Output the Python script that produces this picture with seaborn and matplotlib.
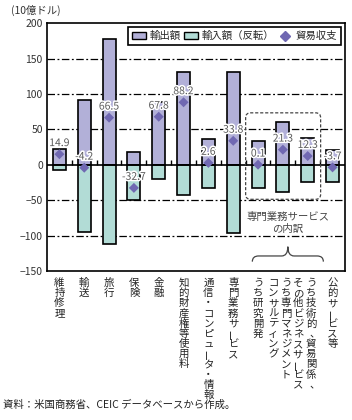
import matplotlib
matplotlib.use("Agg")
import matplotlib.pyplot as plt
import matplotlib.patheffects as pe
from matplotlib.patches import Patch, FancyBboxPatch, PathPatch
from matplotlib.lines import Line2D
from matplotlib.path import Path
from matplotlib.transforms import blended_transform_factory
import pandas as pd
import seaborn as sns

# データ（10億ドル）
categories = ['維持修理', '輸送', '旅行', '保険', '金融', '知的財産権等使用料',
              '通信・コンピュータ・情報', '専門業務サービス', 'うち研究開発',
              'うち専門マネジメントコンサルティング',
              'うち技術的、貿易関係、その他ビジネスサービス', '公的サービス等']
# 縦書きラベル（右の列から）
label_cols = [['維持修理'], ['輸送'], ['旅行'], ['保険'], ['金融'], ['知的財産権等使用料'],
              ['通信・コンピュータ・情報'], ['専門業務サービス'], ['うち研究開発'],
              ['うち専門マネジメント', 'コンサルティング'],
              ['うち技術的、貿易関係、', 'その他ビジネスサービス'], ['公的サービス等']]
exports = [22.9, 91.0, 178.0, 17.5, 88.4, 130.5, 35.9, 130.3, 33.3, 60.2, 37.2, 21.1]
imports = [8.0, 95.2, 111.5, 50.2, 20.6, 42.3, 33.3, 96.5, 33.2, 38.9, 24.9, 24.8]
balance = [14.9, -4.2, 66.5, -32.7, 67.8, 88.2, 2.6, 33.8, 0.1, 21.3, 12.3, -3.7]
yticks = [-150, -100, -50, 0, 50, 100, 150, 200]

df = pd.DataFrame({'cat': categories, 'exp': exports,
                   'imp': [-v for v in imports], 'bal': balance})

c_exp = '#b2b0d8'
c_imp = '#b2dcd6'
c_bal = '#7068b2'

sns.set_style('white')
plt.rcParams['font.family'] = ['Noto Sans CJK JP', 'DejaVu Sans']

fig = plt.figure(figsize=(3.52, 4.2), dpi=100)
ax = fig.add_axes([0.1335, 0.3548, 0.8465, 0.5902])

# 目盛線
for y in yticks:
    if y in (0, 200, -150):
        continue
    ax.axhline(y, color='black', lw=0.9, ls=(0, (6, 2, 1.5, 2)), zorder=0)

sns.barplot(data=df, x='cat', y='exp', color=c_exp, saturation=1, width=0.52,
            edgecolor='black', linewidth=1.2, ax=ax, zorder=2)
sns.barplot(data=df, x='cat', y='imp', color=c_imp, saturation=1, width=0.52,
            edgecolor='black', linewidth=1.2, ax=ax, zorder=2)
ax.axhline(0, color='black', lw=1.2, zorder=2.5)
ax.vlines([i + 0.5 for i in range(len(categories) - 1)], 0, 6, color='black', lw=1, zorder=2.5)
sns.scatterplot(data=df, x='cat', y='bal', marker='D', color=c_bal, s=26,
                edgecolor='none', ax=ax, zorder=4)

for i, b in enumerate(balance):
    ax.annotate(f'{b:.1f}', (i, b), xytext=(0, 8), textcoords='offset points',
                ha='center', va='center', fontsize=7.5, color='#5a5a5a', zorder=5,
                path_effects=[pe.withStroke(linewidth=2.2, foreground='white')])

ax.set_xlim(-0.5, len(categories) - 0.5)
ax.set_ylim(-150, 200)
ax.set_yticks(yticks)
ax.set_xticks([])
ax.set_xlabel('')
ax.set_ylabel('')
ax.tick_params(axis='y', length=0, pad=3, labelsize=7.5, labelcolor='#333333')
for s in ax.spines.values():
    s.set_visible(True)
    s.set_color('black')
    s.set_linewidth(1.2)

# 縦書きのカテゴリラベル
trans = blended_transform_factory(ax.transData, ax.transAxes)
for i, cols in enumerate(label_cols):
    n = len(cols)
    for j, col in enumerate(cols):
        dx = (n - 1) / 2 * 4.7 - j * 9.4
        for k, ch in enumerate(col):
            dy = -(8.6 + k * 7.34)
            rot = 0
            if ch == 'ー':
                rot = 90
            if ch == '、':
                dx2 = dx + 2.8
            else:
                dx2 = dx
            ax.annotate(ch, (i, 0), xycoords=trans, xytext=(dx2, dy),
                        textcoords='offset points', ha='center', va='center',
                        rotation=rot, fontsize=7.5, color='#222222', annotation_clip=False)

# 専門業務サービスの内訳
box = FancyBboxPatch((7.5, -48.8), 3.02, 122.1, boxstyle='round,pad=0,rounding_size=0.2',
                     mutation_aspect=35, fill=False, ls=(0, (2.5, 1.5)), lw=0.9,
                     edgecolor='#444444', zorder=3)
ax.add_patch(box)
ax.text(9.2, -82, '専門業務サービス\nの内訳', ha='center', va='center', fontsize=7.5,
        color='#444444', linespacing=1.25)
x0, x1, xm = 7.77, 10.63, 9.2
ye, yh, yp = -136.8, -128.8, -115.7
verts = [(x0, ye), (x0, yh), (x0 + 0.25, yh), (xm - 0.25, yh), (xm, yh), (xm, yp),
         (xm, yh), (xm + 0.25, yh), (x1 - 0.25, yh), (x1, yh), (x1, ye)]
codes = [Path.MOVETO, Path.CURVE3, Path.CURVE3, Path.LINETO, Path.CURVE3, Path.CURVE3,
         Path.CURVE3, Path.CURVE3, Path.LINETO, Path.CURVE3, Path.CURVE3]
ax.add_patch(PathPatch(Path(verts, codes), fill=False, lw=0.9, edgecolor='#444444'))

handles = [Patch(facecolor=c_exp, edgecolor='black', lw=1),
           Patch(facecolor=c_imp, edgecolor='black', lw=1),
           Line2D([], [], marker='D', color=c_bal, ls='none', markersize=5)]
leg = ax.legend(handles, ['輸出額', '輸入額（反転）', '貿易収支'], loc='upper right', ncol=3,
                fontsize=7.5, frameon=True, fancybox=False, edgecolor='black', framealpha=1,
                handlelength=1.3, handleheight=0.6, handletextpad=0.35, columnspacing=0.4,
                borderpad=0.35, borderaxespad=0.4)
leg.get_frame().set_linewidth(1.2)

fig.text(11 / 352, 1 - 10 / 420, '(10億ドル)', fontsize=7.5, color='#333333', va='center')
fig.text(3 / 352, 1 - 405 / 420, '資料：米国商務省、CEIC データベースから作成。',
         fontsize=7.5, color='#222222', va='center')

fig.savefig('out.png', dpi=100)
